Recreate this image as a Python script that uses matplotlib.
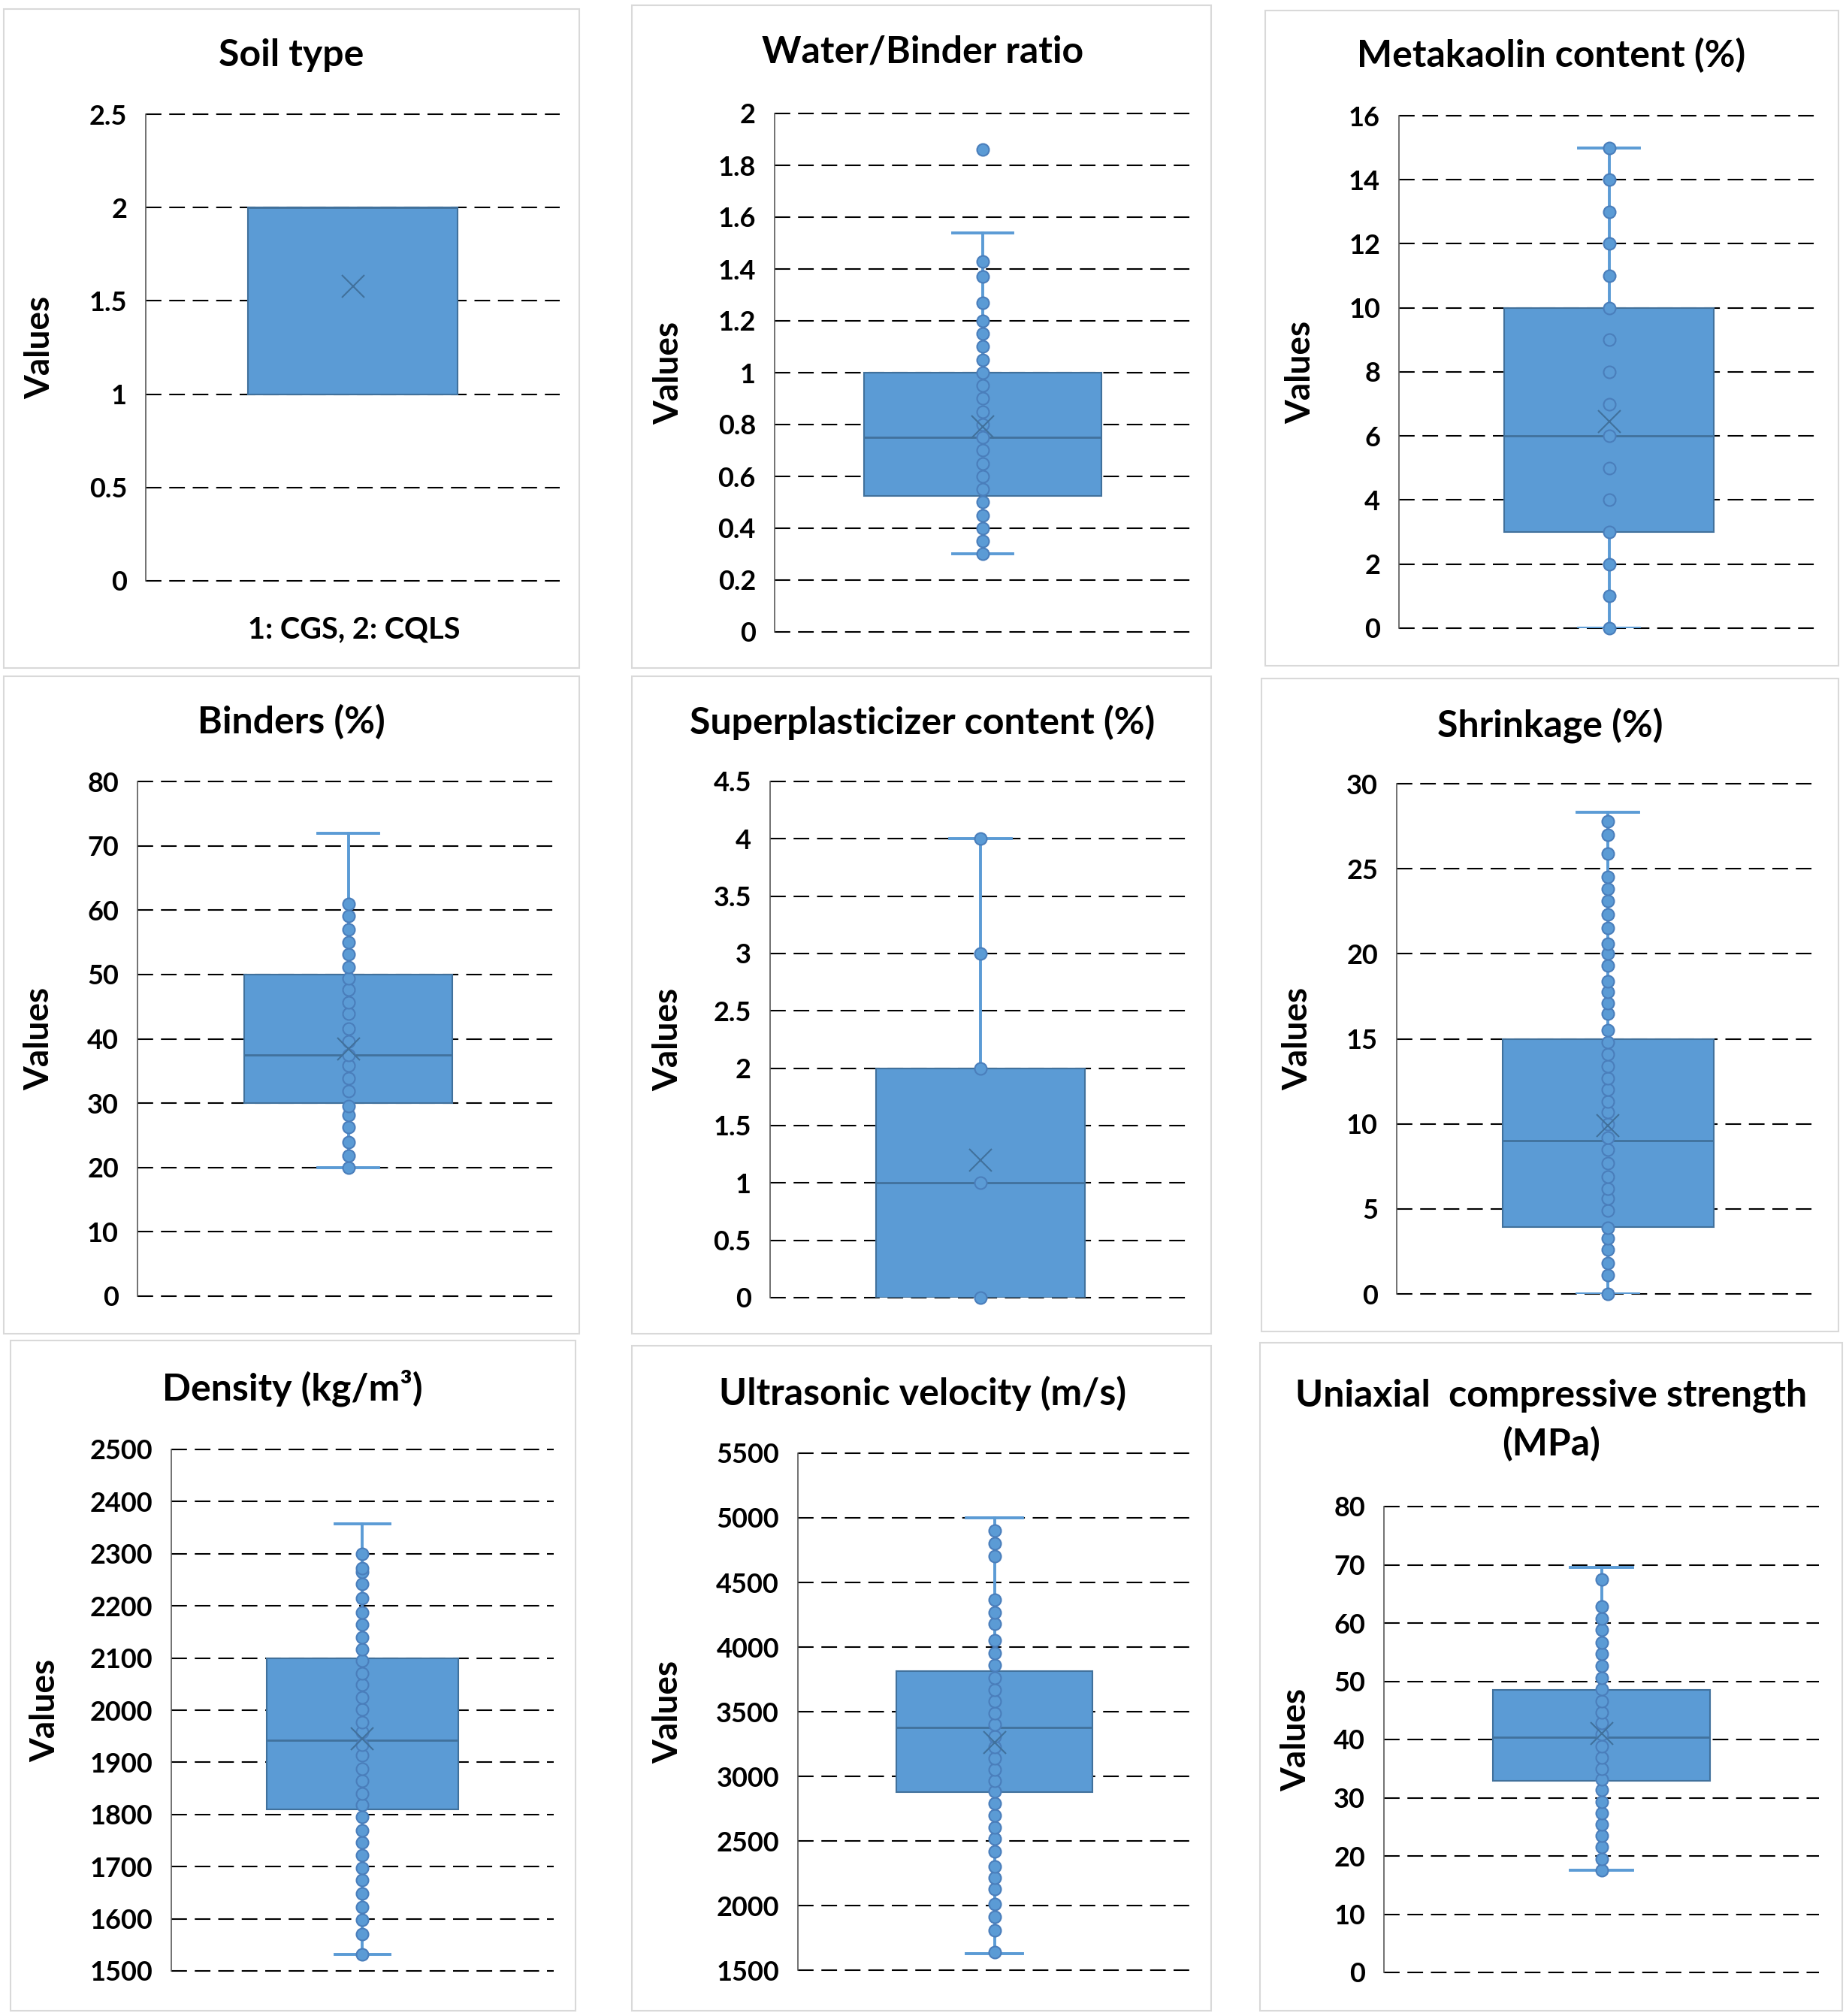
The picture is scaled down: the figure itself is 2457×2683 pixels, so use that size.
import matplotlib.pyplot as plt
import numpy as np
from matplotlib.patches import Rectangle

plt.rcParams['font.family'] = ['Lato', 'DejaVu Sans']
plt.rcParams['font.weight'] = 'bold'

W, H = 2457, 2683

# ---- data ----
titles = ['Soil type', 'Water/Binder ratio', 'Metakaolin content (%)',
          'Binders (%)', 'Superplasticizer content (%)', 'Shrinkage (%)',
          'Density (kg/m\u00b3)', 'Ultrasonic velocity (m/s)',
          'Uniaxial  compressive strength\n(MPa)']

yticks = [np.arange(0, 2.51, 0.5), np.arange(0, 2.01, 0.2), np.arange(0, 16.1, 2),
          np.arange(0, 81, 10), np.arange(0, 4.51, 0.5), np.arange(0, 31, 5),
          np.arange(1500, 2501, 100), np.arange(1500, 5501, 500), np.arange(0, 81, 10)]

q1 = [1, 0.524, 3, 30, 0, 3.95, 1810, 2880, 32.9]
medians = [2, 0.75, 6, 37.5, 1, 9.0, 1943, 3377, 40.4]
q3 = [2, 1.0, 10, 50, 2, 15.0, 2100, 3812, 48.5]
whis_lo = [1, 0.3, 0, 20, 0, 0, 1531, 1630, 17.6]
whis_hi = [2, 1.54, 15, 72, 4, 28.3, 2358, 5000, 69.6]
means = [1.58, 0.79, 6.45, 38.4, 1.2, 9.9, 1945, 3263, 41.0]

soil_pts = []
wb_pts = [0.3, 0.35, 0.4, 0.45, 0.5, 0.55, 0.6, 0.65, 0.7, 0.75, 0.8, 0.85, 0.9,
          0.95, 1.0, 1.05, 1.1, 1.15, 1.2, 1.27, 1.37, 1.43]
mk_pts = [0, 1, 2, 3, 4, 5, 6, 7, 8, 9, 10, 11, 12, 13, 14, 15]
binder_pts = [20, 21.8, 24, 26.3, 28.1, 29.6, 31.9, 33.9, 35.8, 37.5, 39.6, 41.6,
              43.9, 45.7, 47.6, 49.4, 51.1, 53.1, 55, 57, 59.1, 61]
sp_pts = [0, 1, 2, 3, 4]
shrink_pts = [0, 1.1, 1.8, 2.6, 3.25, 3.9, 4.9, 5.6, 6.2, 6.9, 7.7, 8.5, 9.2, 10.0,
              10.7, 11.3, 12.0, 12.7, 13.4, 14.1, 14.8, 15.5, 16.5, 17.1, 17.75,
              18.4, 19.3, 20.0, 20.6, 21.5, 22.3, 23.1, 23.8, 24.5, 25.9, 27.0, 27.8]
density_pts = [1531, 1571, 1598, 1622, 1649, 1674, 1698, 1722, 1746, 1770, 1795,
               1819, 1840, 1864, 1888, 1913, 1934, 1958, 1977, 2001, 2024, 2049,
               2070, 2095, 2116, 2140, 2164, 2188, 2215, 2242, 2265, 2272, 2300]
uv_pts = [1642, 1808, 1914, 2009, 2128, 2218, 2305, 2416, 2518, 2606, 2696, 2790,
          2885, 2967, 3050, 3140, 3228, 3310, 3400, 3488, 3583, 3666, 3760, 3860,
          3955, 4050, 4183, 4270, 4365, 4704, 4803, 4902]
ucs_pts = [17.6, 19.5, 21.5, 23.5, 25.4, 27.3, 29.3, 31.3, 33.2, 35.0, 36.9, 38.9,
           40.9, 42.9, 44.7, 46.6, 48.6, 50.6, 52.7, 54.7, 56.7, 58.8, 60.8, 62.8, 67.5]
points = [soil_pts, wb_pts, mk_pts, binder_pts, sp_pts, shrink_pts, density_pts,
          uv_pts, ucs_pts]
outliers = [[], [1.86], [], [], [], [], [], [], []]

# ---- layout (pixels) ----
panels = [(5, 12, 771, 889), (841, 7, 1612, 889), (1684, 14, 2447, 886),
          (5, 900, 771, 1775), (841, 900, 1612, 1775), (1679, 903, 2447, 1772),
          (14, 1784, 766, 2676), (841, 1791, 1612, 2676), (1677, 1787, 2452, 2676)]
plots = [(194, 152, 745, 773), (1031, 151, 1585, 841), (1862, 154, 2421, 836),
         (183, 1040, 744, 1725), (1025, 1040, 1585, 1727), (1859, 1043, 2421, 1722),
         (228, 1929, 737, 2623), (1062, 1934, 1585, 2622), (1842, 2005, 2421, 2625)]
title_pos = [(388, 74), (1228, 69), (2065, 74), (388, 961), (1228, 961), (2063, 965),
             (389, 1847), (1228, 1854), (2065, 1890)]
ylabel_off = [120, 120, 110, 110, 115, 111, 147, 152, 96]
box_w = [0.506, 0.57, 0.5, 0.495, 0.495, 0.5, 0.5, 0.5, 0.5]

FILL = '#5B9BD5'
EDGE = '#41719C'
DOT_EDGE = '#4A7EBB'

fig = plt.figure(figsize=(W / 100, H / 100), dpi=100)

for i in range(9):
    x0, y0, x1, y1 = panels[i]
    fig.patches.append(Rectangle((x0 / W, 1 - y1 / H), (x1 - x0) / W, (y1 - y0) / H,
                                 transform=fig.transFigure, fill=False,
                                 edgecolor='#D9D9D9', lw=1.5))
    l, t, r, b = plots[i]
    ax = fig.add_axes([l / W, 1 - b / H, (r - l) / W, (b - t) / H])

    stats = [dict(med=medians[i], q1=q1[i], q3=q3[i], whislo=whis_lo[i],
                  whishi=whis_hi[i], mean=means[i], fliers=outliers[i])]
    ax.bxp(stats, positions=[1], widths=box_w[i], patch_artist=True,
           showmeans=True, showfliers=True, showcaps=whis_hi[i] > q3[i],
           capwidths=0.145, manage_ticks=False,
           boxprops=dict(facecolor=FILL, edgecolor=EDGE, lw=1.5, zorder=3),
           medianprops=dict(color=EDGE, lw=2, zorder=3.5),
           whiskerprops=dict(color=FILL, lw=2.8, zorder=2),
           capprops=dict(color=FILL, lw=2.8, zorder=2),
           meanprops=dict(marker='x', markersize=22, markeredgecolor=EDGE,
                          markeredgewidth=1.5, zorder=6),
           flierprops=dict(marker='o', markersize=11.5, markerfacecolor=FILL,
                           markeredgecolor=DOT_EDGE, markeredgewidth=1.5))
    pts = points[i]
    if pts:
        ax.plot(np.ones(len(pts)), pts, 'o', ms=11.5, mfc=FILL, mec=DOT_EDGE,
                mew=1.5, zorder=5, clip_on=False)

    ticks = yticks[i]
    ax.set_ylim(ticks[0], ticks[-1])
    ax.set_xlim(0.5, 1.5)
    ax.set_yticks(ticks)
    ax.set_yticklabels([f'{v:g}' for v in np.round(ticks, 2)])
    ax.set_xticks([])
    ax.tick_params(axis='y', length=0, pad=18, labelsize=26)
    for s in ['top', 'right', 'bottom']:
        ax.spines[s].set_visible(False)
    ax.spines['left'].set_color('#595959')
    ax.spines['left'].set_linewidth(1.2)
    ax.hlines(ticks, 0, 1, transform=ax.get_yaxis_transform(), colors='black',
              linestyles=(0, (10, 5)), lw=1.5, zorder=0.5, clip_on=False)

    ax.set_ylabel('Values', fontsize=33, fontweight='bold')
    ax.yaxis.set_label_coords(-ylabel_off[i] / (r - l), 0.5)

    tx, ty = title_pos[i]
    fig.text(tx / W, 1 - ty / H, titles[i], ha='center', va='center',
             fontsize=36, fontweight='bold', linespacing=1.45)

fig.text(471 / W, 1 - 838 / H, '1: CGS, 2: CQLS', ha='center', va='center',
         fontsize=28.5, fontweight='bold')

fig.savefig('out.png', dpi=100)
